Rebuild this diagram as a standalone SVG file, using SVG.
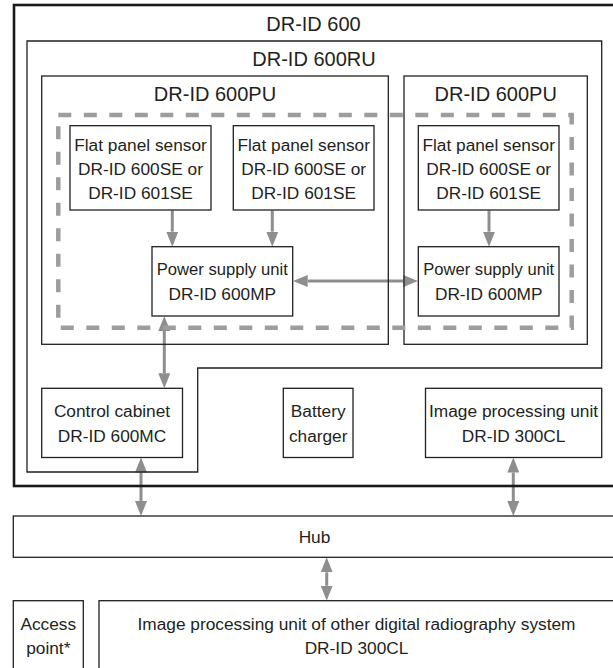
<svg xmlns="http://www.w3.org/2000/svg" width="613" height="668" viewBox="0 0 613 668">
<style>
text{font-family:"Liberation Sans",Arial,Helvetica,sans-serif;fill:#231f20;text-anchor:middle}
.t{font-size:20px}
.n{font-size:17.3px}
.p{font-size:16.6px}
.box{fill:#fff;stroke:#231f20;stroke-width:1.3}
.cont{fill:none;stroke:#231f20;stroke-width:1.3}
.arr{stroke:#8e8e90;stroke-width:3;fill:none;marker-end:url(#ah)}
.dbl{marker-start:url(#ah)}
</style>
<defs>
<marker id="ah" markerWidth="15" markerHeight="12" refX="0" refY="6" orient="auto-start-reverse" markerUnits="userSpaceOnUse">
<path d="M0,0 L15,6 L0,12 z" fill="#8e8e90"/>
</marker>
</defs>
<rect width="613" height="668" fill="#fff"/>

<g id="connectors">
<line class="arr" x1="172.3" y1="210.5" x2="172.3" y2="231.7"/>
<line class="arr" x1="272.3" y1="210.5" x2="272.3" y2="231.7"/>
<line class="arr" x1="489" y1="210.5" x2="489" y2="231.7"/>
<line class="arr dbl" x1="307.7" y1="281" x2="403.3" y2="281"/>
<line class="arr dbl" x1="164.3" y1="331" x2="164.3" y2="373.3"/>
<line class="arr dbl" x1="141" y1="472.5" x2="141" y2="501"/>
<line class="arr dbl" x1="513.3" y1="472.5" x2="513.3" y2="501"/>
<line class="arr dbl" x1="326.7" y1="572.3" x2="326.7" y2="585.7"/>
</g>

<g id="dr-id-600">
<rect x="14" y="5" width="603" height="481" fill="none" stroke="#1a1a1a" stroke-width="2.6"/>
<text class="t" x="313.5" y="31">DR-ID 600</text>
</g>

<g id="dr-id-600ru">
<path class="cont" d="M27,41 H601.7 V368 H197.7 V472 H27 Z"/>
<text class="t" x="314" y="66">DR-ID 600RU</text>
</g>

<g id="pu-left">
<rect class="cont" x="41.7" y="76" width="346.6" height="268.3"/>
<text class="t" x="215" y="101">DR-ID 600PU</text>
</g>

<g id="pu-right">
<rect class="cont" x="404" y="76" width="183.3" height="268.3"/>
<text class="t" x="495.7" y="101">DR-ID 600PU</text>
</g>

<g id="dashed-group">
<rect x="58.3" y="115" width="513.4" height="212.7" fill="none" stroke="#9d9d9f" stroke-width="4.5" stroke-dasharray="13 12.5"/>
</g>

<g id="sensor-1">
<rect class="box" x="70" y="125.7" width="141" height="84.3"/>
<text class="n" x="140.5" y="151">Flat panel sensor</text>
<text class="n" x="140.5" y="175">DR-ID 600SE or</text>
<text class="n" x="140.5" y="199">DR-ID 601SE</text>
</g>

<g id="sensor-2">
<rect class="box" x="233.3" y="125.7" width="140.7" height="84.3"/>
<text class="n" x="303.7" y="151">Flat panel sensor</text>
<text class="n" x="303.7" y="175">DR-ID 600SE or</text>
<text class="n" x="303.7" y="199">DR-ID 601SE</text>
</g>

<g id="sensor-3">
<rect class="box" x="418.3" y="125.7" width="140.7" height="84.3"/>
<text class="n" x="488.7" y="151">Flat panel sensor</text>
<text class="n" x="488.7" y="175">DR-ID 600SE or</text>
<text class="n" x="488.7" y="199">DR-ID 601SE</text>
</g>

<g id="psu-1">
<rect class="box" x="152" y="246.7" width="140.7" height="69.3"/>
<text class="p" x="222.3" y="275">Power supply unit</text>
<text class="n" x="222.3" y="300">DR-ID 600MP</text>
</g>

<g id="psu-2">
<rect class="box" x="418.3" y="246.7" width="140.7" height="69.3"/>
<text class="p" x="488.7" y="275">Power supply unit</text>
<text class="n" x="488.7" y="300">DR-ID 600MP</text>
</g>

<g id="control-cabinet">
<rect class="box" x="41.7" y="388.3" width="140.8" height="69.2"/>
<text class="n" x="112" y="416.5">Control cabinet</text>
<text class="n" x="112" y="441.5">DR-ID 600MC</text>
</g>

<g id="battery-charger">
<rect class="box" x="283.3" y="388.3" width="69.7" height="69.2"/>
<text class="n" x="318.2" y="416.5">Battery</text>
<text class="n" x="318.2" y="441.5">charger</text>
</g>

<g id="image-processing-unit">
<rect class="box" x="425.5" y="388.3" width="176.2" height="69.2"/>
<text class="n" x="513.6" y="416.5">Image processing unit</text>
<text class="n" x="513.6" y="441.5">DR-ID 300CL</text>
</g>

<g id="hub">
<rect class="box" x="13.3" y="516" width="602" height="41.3"/>
<text class="n" x="314.5" y="542.5">Hub</text>
</g>

<g id="access-point">
<rect class="box" x="13.3" y="600.7" width="70" height="70"/>
<text class="n" x="48.3" y="630">Access</text>
<text class="n" x="48.3" y="654">point*</text>
</g>

<g id="other-image-processing-unit">
<rect class="box" x="99" y="600.7" width="516" height="70"/>
<text class="n" x="356.5" y="630">Image processing unit of other digital radiography system</text>
<text class="n" x="356.5" y="654">DR-ID 300CL</text>
</g>
</svg>
